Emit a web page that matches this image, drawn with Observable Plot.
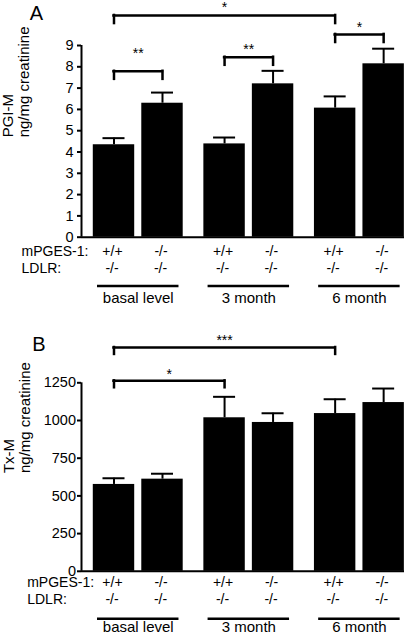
<!DOCTYPE html>
<html><head><meta charset="utf-8">
<script src="https://cdn.jsdelivr.net/npm/d3@7"></script>
<script src="https://cdn.jsdelivr.net/npm/@observablehq/plot@0.6"></script>
<style>
body{margin:0;background:#fff;}
#chart svg{display:block;overflow:visible;}
</style></head><body><div id="chart"></div>
<script>
// ---- data ----
const groups = ["basal level", "3 month", "6 month"];
const mpgesGenotype = ["+/+", "-/-", "+/+", "-/-", "+/+", "-/-"];
const ldlrGenotype = ["-/-", "-/-", "-/-", "-/-", "-/-", "-/-"];
const pgiMean = [4.34, 6.29, 4.38, 7.20, 6.06, 8.14];
const pgiSem  = [0.31, 0.50, 0.30, 0.61, 0.55, 0.71];
const txMean  = [576, 611, 1018, 987, 1046, 1119];
const txSem   = [41, 36, 139, 61, 95, 93];
const pgiTicks = [0, 1, 2, 3, 4, 5, 6, 7, 8, 9];
const txTicks  = [0, 250, 500, 750, 1000, 1250];
// significance brackets: bar indices, bracket level and star level (data units)
const pgiBrackets = [
  {from: 0, to: 1, level: 7.79, label: "**", labelAt: 8.77},
  {from: 2, to: 3, level: 8.45, label: "**", labelAt: 8.97},
  {from: 4, to: 5, level: 9.52, label: "*",  labelAt: 10.02},
  {from: 0, to: 4, level: 10.41, label: "*", labelAt: 10.97}
];
const txBrackets = [
  {from: 0, to: 2, level: 1263, label: "*",   labelAt: 1327},
  {from: 0, to: 4, level: 1484, label: "***", labelAt: 1552}
];

// ---- layout helpers ----
const GROUP_STEP = 2.28, HALF = 0.427, CAP = 0.227, UNDER = 0.34;
const X_DOMAIN = [-0.67, 5.99];
const FONT = "Liberation Sans, Arial, Helvetica, sans-serif";

function panel(cfg) {
  const rows = cfg.mean.map((m, i) => ({
    i, mean: m, sem: cfg.sem[i], top: m + cfg.sem[i],
    pos: Math.floor(i / 2) * GROUP_STEP + (i % 2),
    mpges: mpgesGenotype[i], ldlr: ldlrGenotype[i]
  }));
  const groupRows = groups.map((name, g) => ({
    name, start: rows[2 * g].pos, end: rows[2 * g + 1].pos
  }));
  const br = cfg.brackets.map(b => ({...b, x1: rows[b.from].pos, x2: rows[b.to].pos, mid: (rows[b.from].pos + rows[b.to].pos) / 2}));
  const legs = br.flatMap(b => [{x: b.x1, level: b.level}, {x: b.x2, level: b.level}]);
  const ymax = cfg.ticks[cfg.ticks.length - 1];
  return Plot.plot({
    width: 408, height: cfg.height,
    marginLeft: 81, marginRight: 4, marginTop: cfg.marginTop, marginBottom: cfg.marginBottom,
    style: {fontFamily: FONT, fontSize: "14px", color: "black", background: "white"},
    x: {type: "linear", domain: X_DOMAIN, axis: null},
    y: {domain: [0, ymax], axis: null},
    marks: [
      Plot.rectY(rows, {x1: d => d.pos - HALF, x2: d => d.pos + HALF, y1: 0, y2: "mean", fill: "black"}),
      Plot.ruleX(rows, {x: "pos", y1: "mean", y2: "top", strokeWidth: 2}),
      Plot.ruleY(rows, {y: "top", x1: d => d.pos - CAP, x2: d => d.pos + CAP, strokeWidth: 2}),
      Plot.ruleY([0], {strokeWidth: 2}),
      Plot.ruleX([X_DOMAIN[0]], {y1: 0, y2: ymax, strokeWidth: 2}),
      Plot.axisY({ticks: cfg.ticks, tickFormat: d => String(d), tickSize: 4, tickPadding: cfg.tickPadding, fontSize: 14.5, label: null, strokeWidth: 2, fontFamily: FONT}),
      // genotype rows
      Plot.text(rows, {x: "pos", text: "mpges", frameAnchor: "bottom", dy: cfg.row1, dx: -1.5, fontSize: 14, fontFamily: FONT}),
      Plot.text(rows, {x: "pos", text: "ldlr", frameAnchor: "bottom", dy: cfg.row2, dx: -2, fontSize: 14, fontFamily: FONT}),
      Plot.text(["mPGES-1:"], {text: d => d, frameAnchor: "bottom-left", textAnchor: "start", dx: cfg.rowLabelDx, dy: cfg.row1, fontSize: 14, fontFamily: FONT}),
      Plot.text(["LDLR:"], {text: d => d, frameAnchor: "bottom-left", textAnchor: "start", dx: cfg.rowLabelDx, dy: cfg.row2, fontSize: 14, fontFamily: FONT}),
      // group underlines and labels
      Plot.ruleY(groupRows, {y: 0, x1: d => d.start - UNDER, x2: d => d.end + UNDER, dy: cfg.under, strokeWidth: 2.5}),
      Plot.text(groupRows, {x: d => (d.start + d.end) / 2, text: "name", frameAnchor: "bottom", dy: cfg.groupRow, fontSize: 15, fontFamily: FONT}),
      // significance brackets
      Plot.ruleY(br, {y: "level", x1: "x1", x2: "x2", strokeWidth: 2.5, strokeLinecap: "square"}),
      Plot.ruleX(legs, {x: "x", y1: "level", y2: d => d.level - cfg.legDrop, strokeWidth: 2.5, strokeLinecap: "square"}),
      Plot.text(br, {x: "mid", y: "labelAt", text: "label", dy: 3.5, fontSize: 14, fontFamily: FONT}),
      // axis title and panel letter
      Plot.text([cfg.title], {text: d => d, frameAnchor: "left", rotate: -90, dx: cfg.titleDx, dy: -4, fontSize: 15, lineHeight: 1.07, fontFamily: FONT}),
      Plot.text([cfg.letter], {text: d => d, frameAnchor: "top-left", textAnchor: "start", lineAnchor: "top", dx: cfg.letterDx, dy: cfg.letterDy, fontSize: 20, fontFamily: FONT})
    ]
  });
}

const chart = document.getElementById("chart");
chart.append(panel({
  mean: pgiMean, sem: pgiSem, ticks: pgiTicks, brackets: pgiBrackets,
  height: 320, marginTop: 45, marginBottom: 83.3, tickPadding: 4,
  row1: 18.5, row2: 36, under: 48.8, groupRow: 66, rowLabelDx: -60, legDrop: 0.38,
  title: "PGI-M\nng/mg creatinine", titleDx: -66, letter: "A", letterDx: -51.7, letterDy: -40
}));
chart.append(panel({
  mean: txMean, sem: txSem, ticks: txTicks, brackets: txBrackets,
  height: 318, marginTop: 62.3, marginBottom: 67.2, tickPadding: 1.5,
  row1: 16, row2: 33, under: 47.5, groupRow: 61, rowLabelDx: -54.3, legDrop: 46,
  title: "Tx-M\nng/mg creatinine", titleDx: -65, letter: "B", letterDx: -49.3, letterDy: -45.6
}));
</script></body></html>
